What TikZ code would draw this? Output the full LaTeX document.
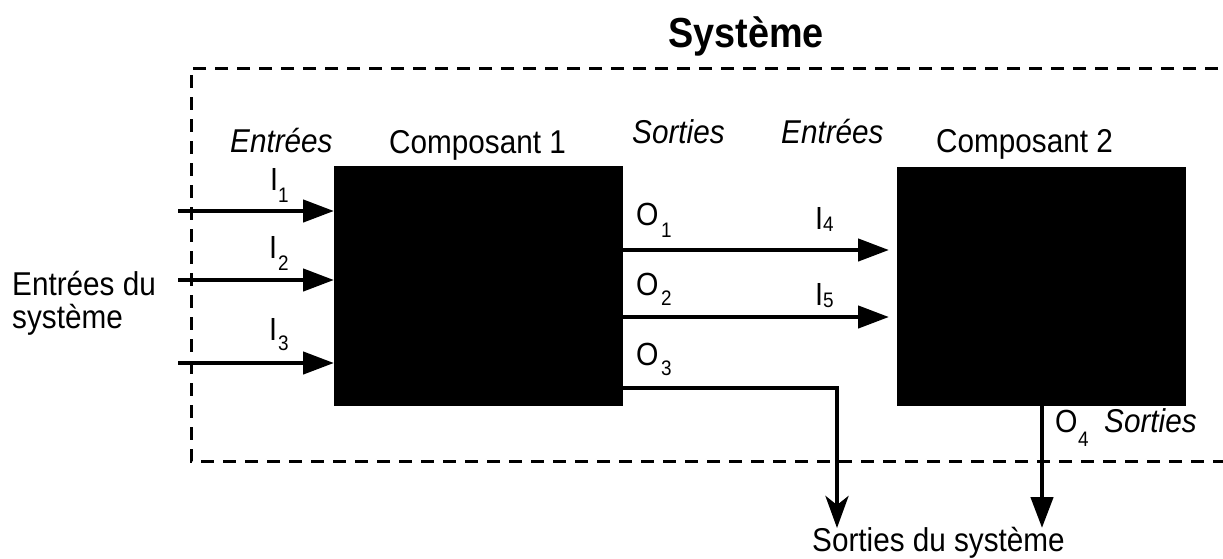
\documentclass[tikz,border=0pt]{standalone}
\usepackage{fontspec}
\setmainfont{Liberation Sans}[FakeStretch=0.9]
\usetikzlibrary{arrows.meta}

\tikzset{
  blk/.style={fill=black, draw=none, inner sep=0pt},
  flow/.style={line width=4.5pt, -{Triangle[length=31pt, width=22pt]}},
  flowstealth/.style={line width=4.5pt, -{Stealth[length=32pt, width=23pt, inset=9pt]}},
  frame/.style={line width=3pt, dash pattern=on 13pt off 9pt},
  lbl/.style={font=\fontsize{33}{33}\selectfont, inner sep=0pt},
  sm/.style={font=\fontsize{32}{34}\selectfont, inner sep=0pt},
  smit/.style={font=\fontsize{33}{35}\selectfont\itshape, inner sep=0pt},
  sub/.style={font=\fontsize{21}{24}\selectfont, inner sep=0pt},
  ttl/.style={font=\fontsize{42}{46}\selectfont\bfseries, inner sep=0pt}
}

\begin{document}
\begin{tikzpicture}[x=1pt, y=-1pt]
\useasboundingbox (0,0) rectangle (1223,558);

% system boundary (open to the right)
\draw[frame] (1240,68) -- (191,68) -- (191,461) -- (1240,461);

% components
\node[blk, minimum width=289pt, minimum height=240pt, anchor=north west] (c1) at (334,166) {};
\node[blk, minimum width=289pt, minimum height=239pt, anchor=north west] (c2) at (897,167) {};

% inputs of component 1
\coordinate (in1) at (178,211);
\coordinate (in2) at (178,280);
\coordinate (in3) at (178,363);
\draw[flow] (in1) -- (in1 -| c1.west);
\draw[flow] (in2) -- (in2 -| c1.west);
\draw[flow] (in3) -- (in3 -| c1.west);

% outputs of component 1
\coordinate (o1) at (623,250);
\coordinate (i4) at (889,250);
\coordinate (o2) at (623,317);
\coordinate (i5) at (889,317);
\coordinate (o3) at (623,388);
\coordinate (s1) at (837,528);
\draw[flow] (o1) -- (i4);
\draw[flow] (o2) -- (i5);
\draw[flowstealth] (o3) -| (s1);

% output of component 2
\coordinate (o4) at (1042,406);
\coordinate (s2) at (1042,528);
\draw[flow] (o4) -- (s2);

% labels
\node[ttl, anchor=base] (tsys) at (746,47) {Système};
\node[smit, anchor=base west] (tin1) at (230,152) {Entrées};
\node[lbl, anchor=base west] (tc1) at (389,153) {Composant 1};
\node[smit, anchor=base west] (tout1) at (632,143) {Sorties};
\node[smit, anchor=base west] (tin2) at (781,143) {Entrées};
\node[lbl, anchor=base west] (tc2) at (936,152) {Composant 2};
\node[lbl, anchor=base west, align=left] (tsin) at (12,328) {Entrées du\\système};
\node[lbl, anchor=base west] (tsout) at (812,551) {Sorties du système};

\node[sm, anchor=base west] (lI1) at (270,190) {I};
\node[sub, anchor=base west] (sI1) at (278,202) {1};
\node[sm, anchor=base west] (lI2) at (269,258) {I};
\node[sub, anchor=base west] (sI2) at (278,270) {2};
\node[sm, anchor=base west] (lI3) at (269,340) {I};
\node[sub, anchor=base west] (sI3) at (278,350) {3};

\node[sm, anchor=base west] (lO1) at (636,225) {O};
\node[sub, anchor=base west] (sO1) at (661,237) {1};
\node[sm, anchor=base west] (lO2) at (636,295) {O};
\node[sub, anchor=base west] (sO2) at (661,305) {2};
\node[sm, anchor=base west] (lO3) at (636,365) {O};
\node[sub, anchor=base west] (sO3) at (661,375) {3};

\node[sm, anchor=base west] (lI4) at (815,229) {I};
\node[sub, anchor=base west] (sI4) at (823,231) {4};
\node[sm, anchor=base west] (lI5) at (815,305) {I};
\node[sub, anchor=base west] (sI5) at (823,307) {5};

\node[sm, anchor=base west] (lO4) at (1055,432) {O};
\node[sub, anchor=base west] (sO4) at (1078,446) {4};
\node[smit, anchor=base west] (tout2) at (1104,432) {Sorties};
\end{tikzpicture}
\end{document}
